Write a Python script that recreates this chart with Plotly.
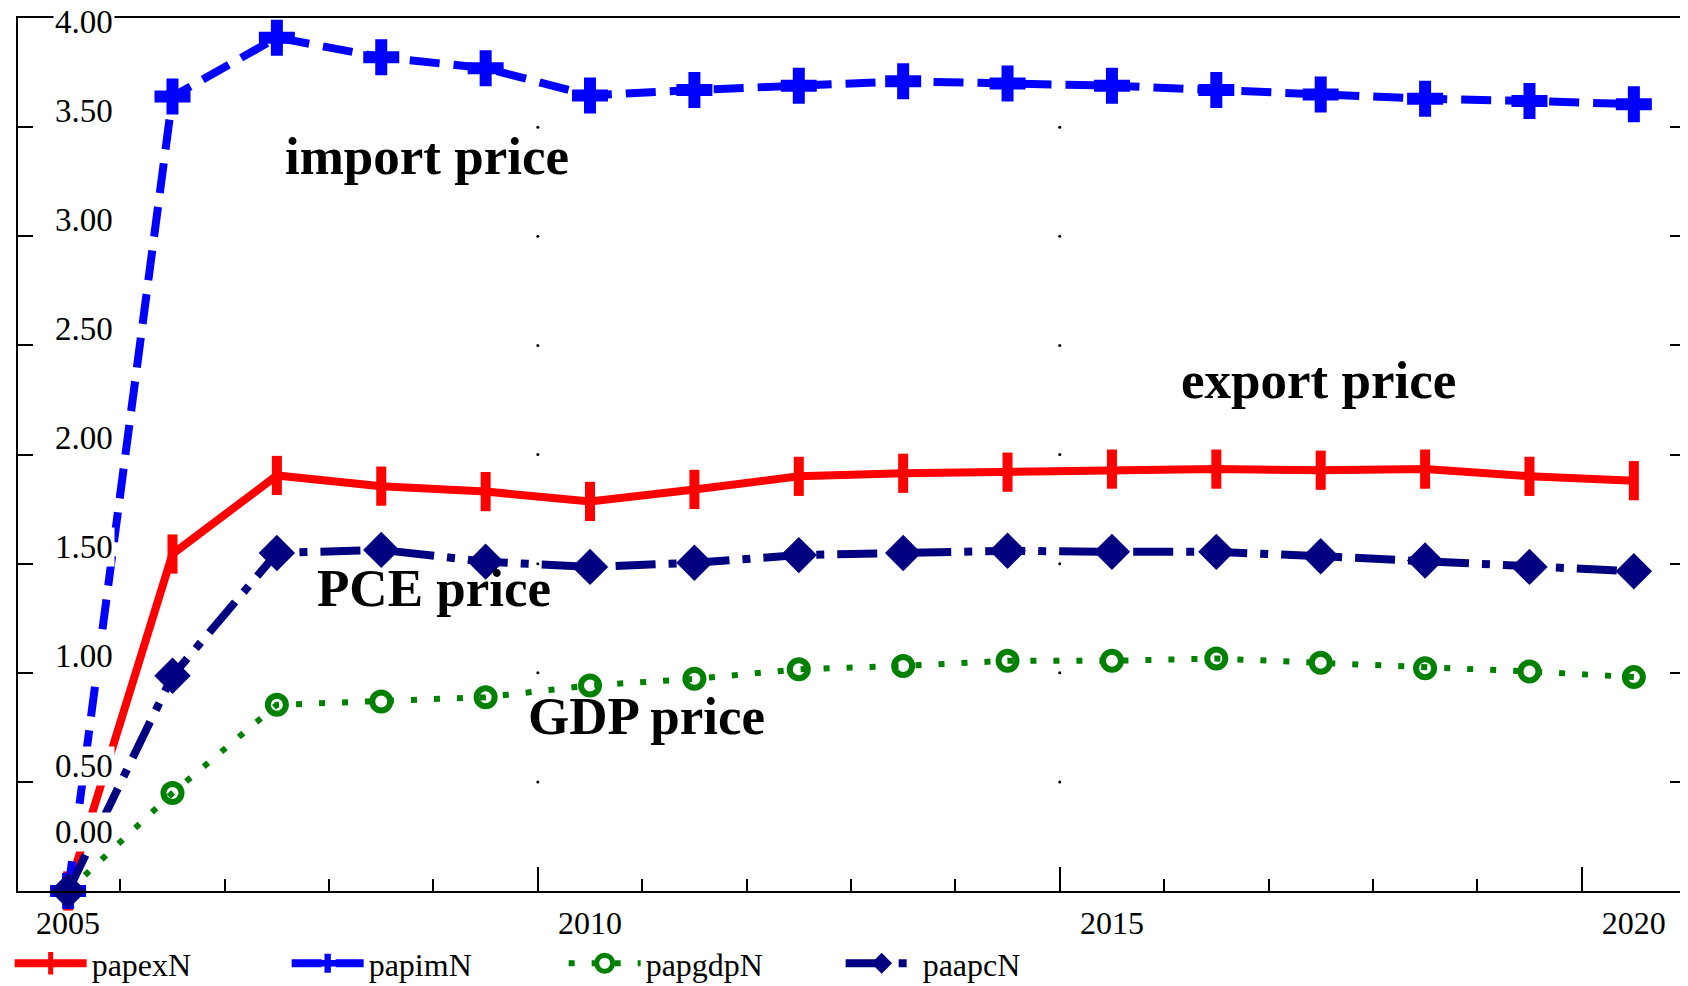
import plotly.graph_objects as go

years = list(range(2005, 2021))
papexN = [0.0, 1.544, 1.904, 1.855, 1.83, 1.785, 1.84, 1.90, 1.914, 1.919, 1.933, 1.933, 1.928, 1.933, 1.90, 1.88]
papimN = [0.0, 3.64, 3.91, 3.82, 3.77, 3.645, 3.67, 3.69, 3.71, 3.70, 3.69, 3.67, 3.65, 3.63, 3.62, 3.605]
papgdpN = [0.0, 0.449, 0.853, 0.868, 0.888, 0.942, 0.972, 1.016, 1.031, 1.055, 1.055, 1.065, 1.046, 1.021, 1.006, 0.98]
paapcN = [0.0, 0.986, 1.549, 1.563, 1.509, 1.485, 1.504, 1.539, 1.549, 1.559, 1.554, 1.554, 1.534, 1.514, 1.485, 1.465]

y_ticks = [0.0, 0.5, 1.0, 1.5, 2.0, 2.5, 3.0, 3.5, 4.0]
y_tick_labels = ["0.00", "0.50", "1.00", "1.50", "2.00", "2.50", "3.00", "3.50", "4.00"]
x_label_vals = [2005, 2010, 2015, 2020]
x_label_text = ["2005", "2010", "2015", "2020"]
x_major_ticks = [2009.5, 2014.5, 2019.5]
x_minor_ticks = [y + 0.5 for y in range(2005, 2020)]

annot_texts = ["import price", "export price", "PCE price", "GDP price"]
annot_x = [2008.44, 2016.98, 2008.51, 2010.54]
annot_y = [3.37, 2.34, 1.39, 0.80]

SERIF = "Liberation Serif, Times New Roman, serif"

fig = go.Figure()

fig.add_trace(go.Scatter(
    x=years, y=papexN, name="papexN", mode="lines+markers",
    line=dict(color="#ff0000", width=8),
    marker=dict(symbol="line-ns", size=28, line=dict(color="#ff0000", width=10)),
    cliponaxis=False))
fig.add_trace(go.Scatter(
    x=years, y=papimN, name="papimN", mode="lines+markers",
    line=dict(color="#0000ff", width=8, dash="30px,14px"),
    marker=dict(symbol="cross", size=30, color="#0000ff"),
    cliponaxis=False))
fig.add_trace(go.Scatter(
    x=years, y=papgdpN, name="papgdpN", mode="lines+markers",
    line=dict(color="#008000", width=6, dash="6px,17px"),
    marker=dict(symbol="circle-open", size=18, color="#008000", line=dict(color="#008000", width=6)),
    cliponaxis=False))
fig.add_trace(go.Scatter(
    x=years, y=paapcN, name="paapcN", mode="lines+markers",
    line=dict(color="#000080", width=8, dash="40px,13px,8px,13px"),
    marker=dict(symbol="diamond", size=28, color="#000080"),
    cliponaxis=False))

# faint grid dots at major x ticks
gx, gy = [], []
for xv in x_major_ticks[:2]:
    for yv in y_ticks[1:-1]:
        gx.append(xv)
        gy.append(yv)
fig.add_trace(go.Scatter(x=gx, y=gy, mode="markers", showlegend=False, hoverinfo="skip",
                         marker=dict(size=3, color="black")))

# dummy trace on xaxis2 for labels
fig.add_trace(go.Scatter(x=[x_label_vals[0]], y=[0], xaxis="x2", mode="markers",
                         marker=dict(opacity=0), showlegend=False, hoverinfo="skip"))

# y tick labels as annotations
for v, t in zip(y_ticks, y_tick_labels):
    shift = 0
    if v == 4.0:
        yy = v
        shift = -4
    elif v == 0.0:
        yy = 0.27
    else:
        yy = v + 0.075
    fig.add_annotation(x=0, xref="paper", y=yy, yref="y", text=t, showarrow=False,
                       xanchor="left", yanchor="middle", xshift=35, yshift=shift, bgcolor="white",
                       font=dict(family=SERIF, size=33, color="black"), borderpad=1)

for t, ax_, ay_ in zip(annot_texts, annot_x, annot_y):
    fig.add_annotation(x=ax_, y=ay_, text="<b>" + t + "</b>", showarrow=False,
                       font=dict(family=SERIF, size=53, color="black"),
                       xanchor="center", yanchor="middle")

xr = [2004.52, 2020.49]
fig.update_layout(
    width=1680, height=978,
    margin=dict(l=10, r=3, t=10, b=95, autoexpand=False),
    paper_bgcolor="white", plot_bgcolor="white",
    font=dict(family=SERIF, size=32, color="black"),
    showlegend=True,
    legend=dict(orientation="h", x=-0.005, xanchor="left", y=-0.083, yanchor="middle",
                itemwidth=72, entrywidth=190, entrywidthmode="pixels",
                font=dict(family=SERIF, size=32, color="black"), bgcolor="rgba(0,0,0,0)"),
    xaxis=dict(range=xr, showgrid=False, zeroline=False, showline=True, linecolor="black",
               linewidth=2, mirror=True, ticks="inside", tickvals=x_major_ticks, ticklen=24,
               tickwidth=2, tickcolor="black", showticklabels=False, automargin=False,
               minor=dict(tickvals=x_minor_ticks, ticks="inside", ticklen=12, tickwidth=2,
                          tickcolor="black", showgrid=False)),
    xaxis2=dict(range=xr, overlaying="x", anchor="y", side="bottom", showgrid=False,
                zeroline=False, showline=False, ticks="", tickvals=x_label_vals,
                ticktext=x_label_text, tickfont=dict(family=SERIF, size=32, color="black"),
                ticklabelstandoff=10, automargin=False),
    yaxis=dict(range=[0, 4], showgrid=False, zeroline=False, showline=True, linecolor="black",
               linewidth=2, mirror="ticks", ticks="inside", tickvals=y_ticks, ticklen=15,
               tickwidth=2, tickcolor="black", showticklabels=False, automargin=False),
)

fig.write_html("out.html")
